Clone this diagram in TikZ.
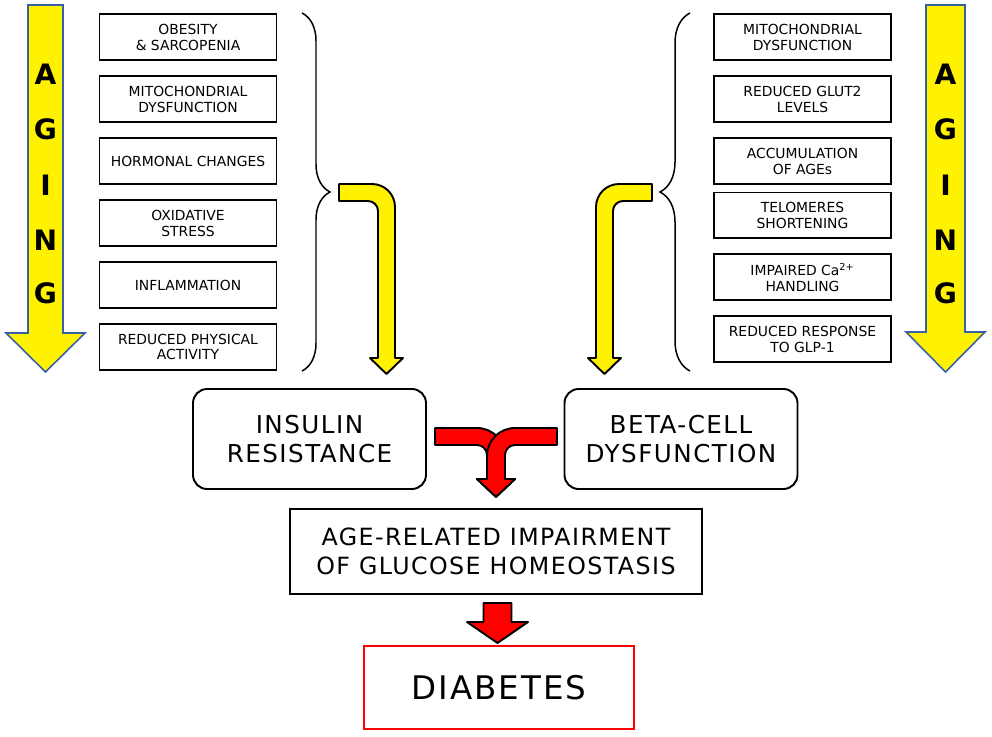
\documentclass[tikz,border=0pt]{standalone}
\usepackage{fontspec}
\setmainfont{DejaVu Sans}
\newfontfamily\spaced[LetterSpace=6]{DejaVu Sans}
\usepackage{tikz}
\usetikzlibrary{positioning, decorations.pathreplacing}
\definecolor{agingblue}{RGB}{55,96,166}

\tikzset{
  cause/.style={draw, line width=1.1pt, minimum width=3.54cm, minimum height=0.92cm,
    align=center, inner sep=1pt, font=\fontsize{7.9}{9.1}\selectfont},
  effect/.style={draw, line width=1.1pt, rounded corners=8pt, minimum width=4.66cm,
    minimum height=2cm, align=center, font=\spaced\fontsize{14}{16.5}\selectfont},
  outcome/.style={draw, line width=1.1pt, minimum width=8.24cm, minimum height=1.7cm,
    align=center, font=\spaced\fontsize{13.5}{16.5}\selectfont},
  final/.style={draw=red, line width=0.9pt, minimum width=5.4cm, minimum height=1.66cm,
    font=\spaced\fontsize{18.5}{20}\selectfont},
  letter/.style={font=\fontsize{16}{16}\bfseries\selectfont},
  agingarrow/.style={draw=agingblue, line width=0.9pt, fill=yellow},
  blockarrow/.style={draw, line width=1.1pt, line join=round},
  curly/.style={decorate, line width=0.85pt},
}

\begin{document}
\begin{tikzpicture}[x=0.02cm, y=-0.02cm, node distance=1.24cm]
    \useasboundingbox (0,0) rectangle (992,737);

    % aging arrows
    \draw[agingarrow] (28,5) -- (63,5) -- (63,333) -- (85,333) -- (45.5,372) -- (6,333) -- (28,333) -- cycle;
    \draw[agingarrow] (926,5) -- (965,5) -- (965,332) -- (985,332) -- (945.5,372) -- (906,332) -- (926,332) -- cycle;

    \node[letter] (la) at (45.5,74) {A};
    \node[letter] (lg) at (45.5,129) {G};
    \node[letter] (li) at (45.5,185) {I};
    \node[letter] (ln) at (45.5,240) {N};
    \node[letter] (lgg) at (45.5,293) {G};

    \node[letter] (ra) at (945.5,74) {A};
    \node[letter] (rg) at (945.5,129) {G};
    \node[letter] (ri) at (945.5,185) {I};
    \node[letter] (rn) at (945.5,240) {N};
    \node[letter] (rgg) at (945.5,293) {G};

    % insulin resistance side
    \node[cause] (l1) at (188,37) {OBESITY\\\& SARCOPENIA};
    \node[cause] (l2) [below of=l1] {MITOCHONDRIAL\\DYSFUNCTION};
    \node[cause] (l3) [below of=l2] {HORMONAL CHANGES};
    \node[cause] (l4) [below of=l3] {OXIDATIVE\\STRESS};
    \node[cause] (l5) [below of=l4] {INFLAMMATION};
    \node[cause] (l6) [below of=l5] {REDUCED PHYSICAL\\ACTIVITY};

    % beta-cell side
    \node[cause] (r1) at (802.5,37) {MITOCHONDRIAL\\DYSFUNCTION};
    \node[cause] (r2) [below of=r1] {REDUCED GLUT2\\LEVELS};
    \node[cause] (r3) [below of=r2] {ACCUMULATION\\OF AGEs};
    \node[cause] (r4) [below of=r3, node distance=1.09cm] {TELOMERES\\SHORTENING};
    \node[cause] (r5) [below of=r4] {IMPAIRED Ca\textsuperscript{2+}\\HANDLING};
    \node[cause] (r6) [below of=r5] {REDUCED RESPONSE\\TO GLP-1};

    \draw[curly, decoration={brace, amplitude=0.56cm}] (302,13) -- (302,371);
    \draw[curly, decoration={brace, amplitude=0.6cm}] (690,371) -- (690,13);

    % elbow arrows
    \draw[blockarrow, fill=yellow] (339,184) -- (372,184) .. controls (384.7,184) and (395,194.3) .. (395,207)
        -- (395,358) -- (403,358) -- (386.5,374) -- (370,358) -- (378,358)
        -- (378,211) .. controls (378,205.5) and (373.5,201) .. (368,201) -- (339,201) -- cycle;
    \draw[blockarrow, fill=yellow] (652,184) -- (619,184) .. controls (606.3,184) and (596,194.3) .. (596,207)
        -- (596,358) -- (588,358) -- (604.5,374) -- (621,358) -- (613,358)
        -- (613,211) .. controls (613,205.5) and (617.5,201) .. (623,201) -- (652,201) -- cycle;

    \node[effect] (ir) at (309.5,439) {INSULIN\\RESISTANCE};
    \node[effect] (bc) at (681,439) {BETA-CELL\\DYSFUNCTION};

    % merging arrow
    \draw[blockarrow, fill=red] (435,428) -- (477,428) .. controls (492.5,428) and (505,440.5) .. (505,456)
        -- (505,479) -- (515,479) -- (496,497) -- (477,479) -- (487,479)
        -- (487,455) .. controls (487,449.5) and (482.5,445) .. (477,445) -- (435,445) -- cycle;
    \draw[blockarrow, fill=red] (557,428) -- (515,428) .. controls (499.5,428) and (487,440.5) .. (487,456)
        -- (487,479) -- (477,479) -- (496,497) -- (515,479) -- (505,479)
        -- (505,455) .. controls (505,449.5) and (509.5,445) .. (515,445) -- (557,445) -- cycle;

    \node[outcome] (age) at (496,551.5) {AGE-RELATED IMPAIRMENT\\OF GLUCOSE HOMEOSTASIS};

    \draw[blockarrow, fill=red] (483.5,603) -- (511.5,603) -- (511.5,622) -- (528,622) -- (497.5,643)
        -- (467,622) -- (483.5,622) -- cycle;

    \node[final] (dm) at (499,687.5) {DIABETES};
\end{tikzpicture}
\end{document}
